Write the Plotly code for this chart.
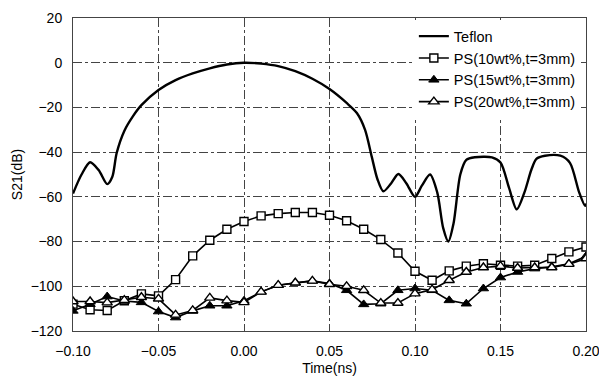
import plotly.graph_objects as go

# Teflon (continuous curve)
teflon_t = [-0.100, -0.095, -0.090, -0.085, -0.080, -0.077, -0.0745, -0.070, -0.065, -0.060,
            -0.050, -0.040, -0.030, -0.020, -0.010, 0.000, 0.010, 0.020, 0.030, 0.040,
            0.050, 0.060, 0.066, 0.0708, 0.0747, 0.078, 0.0815, 0.086, 0.0903, 0.095,
            0.100, 0.104, 0.1088, 0.113, 0.1165, 0.1195, 0.1225, 0.1265, 0.130, 0.135,
            0.145, 0.150, 0.155, 0.1595, 0.164, 0.168, 0.171, 0.176, 0.185, 0.1906,
            0.196, 0.1994, 0.200]
teflon_db = [-58.5, -50, -44.5, -48, -54.3, -51, -40.5, -30.5, -24, -19,
             -12.2, -7.8, -4.8, -2.5, -0.8, 0, -0.4, -1.5, -3.8, -7.2,
             -11.8, -18, -22.5, -30, -42, -52, -57.5, -54, -49.8, -54,
             -60, -55, -50, -58, -74, -80, -72, -50, -43.5, -42.3,
             -42.3, -44.6, -56, -65.6, -58, -48, -43, -41.6, -41.6, -44.8,
             -58, -64, -63]

# PS samples (0.01 ns steps)
t = [-0.10, -0.09, -0.08, -0.07, -0.06, -0.05, -0.04, -0.03, -0.02, -0.01,
     0.00, 0.01, 0.02, 0.03, 0.04, 0.05, 0.06, 0.07, 0.08, 0.09,
     0.10, 0.11, 0.12, 0.13, 0.14, 0.15, 0.16, 0.17, 0.18, 0.19, 0.20]
ps10 = [-108, -110.5, -110.8, -106.5, -103.4, -104.3, -97, -86.4, -79.4, -74.5,
        -71, -68.5, -67.5, -67, -67, -68.2, -70.7, -74.5, -79.1, -85.1,
        -93.3, -97.3, -93.1, -91, -89.9, -90.6, -91, -90.6, -87.6, -84.6, -82.4]
ps15 = [-111, -108, -104.6, -106.6, -107.2, -111.3, -114, -111, -108.7, -108.7,
        -106.5, -102.5, -99.5, -98.4, -97.6, -98.8, -101.8, -108.1, -107.8, -101.8,
        -101, -101.8, -106.3, -107.8, -101, -96.1, -93.6, -92.1, -91.3, -89.9, -86.6]
ps20 = [-106.8, -106.8, -107.3, -106.2, -104.9, -105.6, -112.8, -110.8, -105.2, -106.4,
        -107.2, -102.5, -99.5, -98.4, -97.6, -99.1, -100, -101.8, -107.5, -107.5,
        -103.3, -101.5, -97.3, -93.6, -91.6, -91, -91.8, -91.6, -91.6, -90.1, -87.6]

x_ticks = [-0.10, -0.05, 0.00, 0.05, 0.10, 0.15, 0.20]
x_tick_labels = ["\u22120.10", "\u22120.05", "0.00", "0.05", "0.10", "0.15", "0.20"]
y_ticks = [20, 0, -20, -40, -60, -80, -100, -120]
y_tick_labels = ["20", "0", "\u221220", "\u221240", "\u221260", "\u221280", "\u2212100", "\u2212120"]

FONT = "Liberation Sans, Arial, sans-serif"

fig = go.Figure()
fig.add_trace(go.Scatter(x=teflon_t, y=teflon_db, mode="lines", name="Teflon",
                         line=dict(color="black", width=2.4, shape="spline", smoothing=0.8)))
fig.add_trace(go.Scatter(x=t, y=ps10, mode="lines+markers", name="PS(10wt%,t=3mm)",
                         line=dict(color="black", width=1.6),
                         marker=dict(symbol="square", size=8, color="white",
                                     line=dict(color="black", width=1.4))))
fig.add_trace(go.Scatter(x=t, y=ps15, mode="lines+markers", name="PS(15wt%,t=3mm)",
                         line=dict(color="black", width=1.6),
                         marker=dict(symbol="triangle-up", size=9, color="black",
                                     line=dict(color="black", width=1))))
fig.add_trace(go.Scatter(x=t, y=ps20, mode="lines+markers", name="PS(20wt%,t=3mm)",
                         line=dict(color="black", width=1.6),
                         marker=dict(symbol="triangle-up", size=9, color="white",
                                     line=dict(color="black", width=1.4))))

axis_common = dict(showgrid=True, gridcolor="#444", griddash="dashdot", gridwidth=1,
                   showline=True, linecolor="#444", linewidth=1, mirror=True,
                   zeroline=False, ticks="", automargin=False,
                   ticklabeloverflow="allow",
                   tickfont=dict(family=FONT, size=14, color="black"))

fig.update_xaxes(range=[-0.10, 0.20], tickvals=x_ticks, ticktext=x_tick_labels,
                 title=dict(text="Time(ns)", font=dict(family=FONT, size=14, color="black"),
                            standoff=5),
                 ticklabelstandoff=7, **axis_common)
fig.update_yaxes(range=[-120, 20], tickvals=y_ticks, ticktext=y_tick_labels,
                 title=dict(text="S21(dB)", font=dict(family=FONT, size=14, color="black"),
                            standoff=4),
                 ticklabelstandoff=7, **axis_common)

fig.update_layout(
    width=599, height=376,
    margin=dict(l=73, r=13, t=18, b=45),
    plot_bgcolor="white", paper_bgcolor="white",
    font=dict(family=FONT, size=14, color="black"),
    legend=dict(x=0.99, y=0.993, xanchor="right", yanchor="top",
                bgcolor="white", borderwidth=0, tracegroupgap=0,
                font=dict(family=FONT, size=14.5, color="black"),
                itemwidth=30),
    showlegend=True,
)

fig.write_html("out.html")
